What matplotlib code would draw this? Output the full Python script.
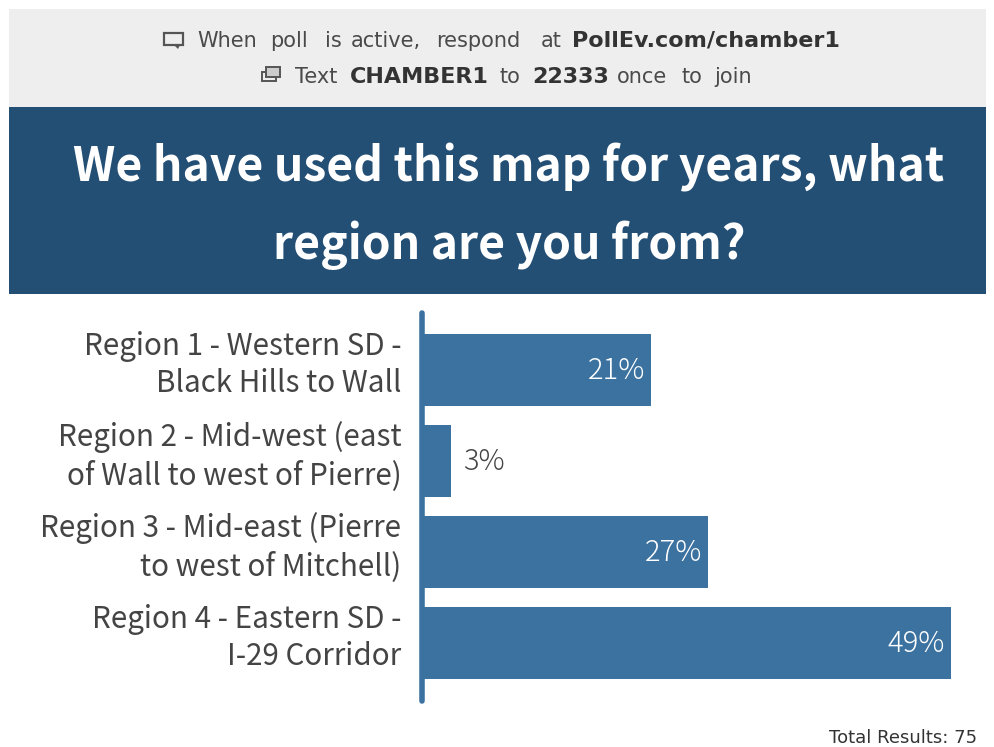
import matplotlib
matplotlib.use("Agg")
import matplotlib.pyplot as plt
from matplotlib.patches import Rectangle, Polygon

W, H = 995, 747

regions = [
    "Region 1 - Western SD -\nBlack Hills to Wall",
    "Region 2 - Mid-west (east\nof Wall to west of Pierre)",
    "Region 3 - Mid-east (Pierre\nto west of Mitchell)",
    "Region 4 - Eastern SD -\nI-29 Corridor",
]
# bar lengths follow the raw counts out of 75, labels are the rounded percents
counts = [16, 2, 20, 37]
percents = [21, 3, 27, 49]
title_lines = ["We have used this map for years, what", "region are you from?"]

# the Latin glyphs of Noto Sans CJK are the closest thing to the original font
plt.rcParams["font.family"] = ["Noto Sans CJK JP", "DejaVu Sans"]
SPACED = ["DejaVu Sans"]

fig = plt.figure(figsize=(W / 100, H / 100), dpi=100, facecolor="white")

bg = fig.add_axes([0, 0, 1, 1])
bg.set_xlim(0, W)
bg.set_ylim(H, 0)
bg.axis("off")
bg.add_patch(Rectangle((9, 9), 977, 98, color="#eeeeee", lw=0))
bg.add_patch(Rectangle((9, 107), 977, 187, color="#244f75", lw=0))

# the header has wide letter spacing, so each word gets its own left edge
line1 = [("When", 197, 0), ("poll", 270, 0), ("is", 325, 0), ("active,", 351, 0), ("respond", 436, 0),
         ("at", 541, 0), ("PollEv.com/chamber1", 572, 1)]
line2 = [("Text", 295, 0), ("CHAMBER1", 350, 1), ("to", 499, 0), ("22333", 532, 1),
         ("once", 617, 0), ("to", 682, 0), ("join", 714, 0)]
for y, words in [(39, line1), (75, line2)]:
    for word, x, bold in words:
        bg.text(x, y, word, fontsize=15 if not bold else 16, family=SPACED, va="center_baseline",
                color="#333333" if bold else "#4a4a4a", fontweight="bold" if bold else "normal")

# small icons next to the two lines
bg.add_patch(Rectangle((164, 33), 19, 12, fill=False, ec="#555555", lw=1.6))
bg.add_patch(Polygon([(174, 45), (180, 45), (178, 49)], color="#555555", lw=0))
bg.add_patch(Rectangle((262, 72), 14, 9, fill=False, ec="#555555", lw=1.4))
bg.add_patch(Rectangle((266, 67), 14, 10, fc="#cccccc", ec="#555555", lw=1.4))

bg.text(509, 167, title_lines[0], fontsize=33.3, fontweight="bold", color="white", ha="center", va="center")
bg.text(509, 245, title_lines[1], fontsize=33.3, fontweight="bold", color="white", ha="center", va="center")

bg.text(977, 738, "Total Results: 75", fontsize=13, family=SPACED, color="#333333", ha="right", va="center")

# chart axes: zero at the axis line, longest bar ends at x=951
left, right, top, bottom = 422.4, 951, 313, 701
ax = fig.add_axes([left / W, 1 - bottom / H, (right - left) / W, (bottom - top) / H])
ax.set_facecolor("none")
ypos = range(len(counts))
ax.barh(ypos, counts, height=0.8, color="#3c72a0")
ax.set_xlim(0, max(counts))
ax.set_ylim(3.637, -0.626)
ax.set_xticks([])
ax.set_yticks([])
for s in ["top", "right", "bottom"]:
    ax.spines[s].set_visible(False)
ax.spines["left"].set_color("#3c72a0")
ax.spines["left"].set_linewidth(4)
ax.spines["left"].set_capstyle("round")

for i, (name, c, p) in enumerate(zip(regions, counts, percents)):
    ax.annotate(name, (0, i), xytext=(-21, 5), textcoords="offset pixels", ha="right", va="center",
                fontsize=21.3, color="#444444", linespacing=1.26)
    if p > 5:
        ax.annotate(f"{p}%", (c, i), xytext=(-6, -1), textcoords="offset pixels", ha="right", va="center",
                    fontsize=21, color="white", fontweight="light")
    else:
        ax.annotate(f"{p}%", (c, i), xytext=(12, -1), textcoords="offset pixels", ha="left", va="center",
                    fontsize=21, color="#444444", fontweight="light")

fig.savefig("out.png", dpi=100)
